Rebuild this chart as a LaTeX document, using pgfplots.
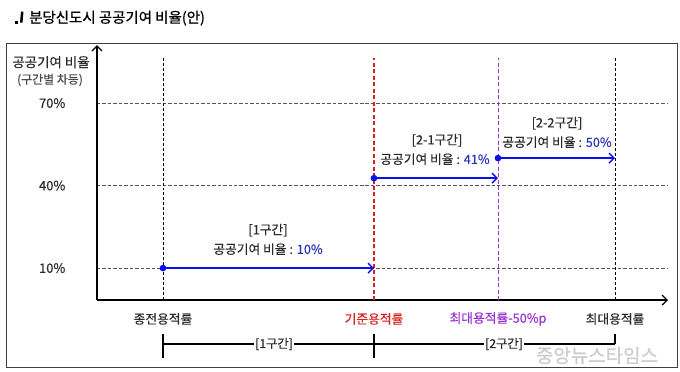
\documentclass[border=0pt]{standalone}
\usepackage{pgfplots}
\pgfplotsset{compat=1.18}
\usetikzlibrary{arrows.meta}
\usepackage{fontspec}
\setmainfont{Noto Sans CJK KR}[FakeBold=0.35]
\newfontfamily\titlefont{Noto Sans CJK KR}[FakeBold=0.8]
\definecolor{txt}{HTML}{2A2A2A}
\definecolor{arr}{HTML}{0A10EE}
\definecolor{bluetxt}{HTML}{2A35B5}
\definecolor{redc}{HTML}{DA2020}
\definecolor{purp}{HTML}{9A30D0}
\definecolor{gridc}{HTML}{555555}
\newcommand{\lf}{\fontsize{12.8}{14}\selectfont}
\begin{document}
\begin{tikzpicture}
\begin{axis}[
  scale only axis, width=571bp, height=255bp,
  xmin=97, xmax=668, ymin=-1.64, ymax=91.1,
  axis lines=left,
  axis line style={line width=1.2pt, black, -{Straight Barb[length=5bp,width=10bp]}},
  xtick=\empty,
  ytick={10,40,70}, yticklabels={10\%,40\%,70\%},
  ymajorgrids,
  major grid style={dash pattern=on 3.5pt off 2pt, gridc, line width=0.7pt},
  major tick style={draw=none},
  yticklabel style={font=\fontsize{13}{15}\selectfont, text=txt, xshift=-26bp},
  /pgf/number format/assume math mode=true,
  clip=false,
]
% vertical reference lines
\addplot[dash pattern=on 3pt off 2pt, black, line width=0.7pt] coordinates {(163,-1.64) (163,86.4)};
\addplot[dash pattern=on 4pt off 2.5pt, redc, line width=1.1pt] coordinates {(374,-1.64) (374,86.4)};
\addplot[dash pattern=on 4pt off 2.5pt, purp, line width=0.9pt] coordinates {(498,-1.64) (498,86.4)};
\addplot[dash pattern=on 3pt off 2pt, black, line width=0.7pt] coordinates {(615,-1.64) (615,86.4)};
% rate arrows
\addplot[arr, line width=1.4pt, -{Straight Barb[length=5bp,width=10bp]}, mark=*, mark size=2.6pt, mark indices={1}, mark options={solid, fill=arr, draw=arr}] coordinates {(163,10) (374,10)};
\addplot[arr, line width=1.4pt, -{Straight Barb[length=5bp,width=10bp]}, mark=*, mark size=2.6pt, mark indices={1}, mark options={solid, fill=arr, draw=arr}] coordinates {(374,42.7) (498,42.7)};
\addplot[arr, line width=1.4pt, -{Straight Barb[length=5bp,width=10bp]}, mark=*, mark size=2.6pt, mark indices={1}, mark options={solid, fill=arr, draw=arr}] coordinates {(498,50) (615,50)};
% annotations
\node[text=txt, font=\lf] at (axis cs:268,23.8) {[1구간]};
\node[text=txt, font=\lf] at (axis cs:268,16.9) {공공기여 비율 : \textcolor{bluetxt}{10\%}};
\node[text=txt, font=\lf] at (axis cs:437,56.5) {[2-1구간]};
\node[text=txt, font=\lf] at (axis cs:435,49.6) {공공기여 비율 : \textcolor{bluetxt}{41\%}};
\node[text=txt, font=\lf] at (axis cs:557,62.7) {[2-2구간]};
\node[text=txt, font=\lf] at (axis cs:557,55.8) {공공기여 비율 : \textcolor{bluetxt}{50\%}};
% y axis title
\node[text=txt, font=\fontsize{13.5}{15}\selectfont] at (axis cs:51,84.9) {공공기여 비율};
\node[text=txt!85, font=\fontsize{12}{13}\selectfont] at (axis cs:50,78.4) {(구간별 차등)};
% category labels
\node[text=txt, font=\lf] at (axis cs:163,-8.5) {종전용적률};
\node[text=redc, font=\lf] at (axis cs:374,-8.5) {기준용적률};
\node[text=purp, font=\lf] at (axis cs:498,-8.5) {최대용적률-50\%p};
\node[text=txt, font=\lf] at (axis cs:615,-8.5) {최대용적률};
% watermark
\node[text=black!20, font=\fontsize{19}{21}\selectfont\titlefont] at (axis cs:597,-21.8) {중앙뉴스타임스};
% bracket
\draw[line width=1.3pt, black] (axis cs:163,-17.6) -- (axis cs:615,-17.6);
\draw[line width=1.3pt, black] (axis cs:163,-14) -- (axis cs:163,-22.7);
\draw[line width=1.3pt, black] (axis cs:374,-14) -- (axis cs:374,-22.7);
\draw[line width=1.3pt, black] (axis cs:615,-14) -- (axis cs:615,-17.6);
\node[fill=white, text=txt, font=\fontsize{12.3}{13}\selectfont, inner sep=1.5pt] at (axis cs:274,-17.6) {[1구간]};
\node[fill=white, text=txt, font=\fontsize{12.3}{13}\selectfont, inner sep=1.5pt] at (axis cs:504,-17.6) {[2구간]};
% frame
\draw[line width=0.8pt, black!75] (axis cs:6,91.8) rectangle (axis cs:677,-26.2);
% title
\fill[black] (axis cs:15,100.0) rectangle (axis cs:18.5,98.6);
\fill[black] (axis cs:21,103.3) -- (axis cs:23.5,103.3) -- (axis cs:22.5,99.3) -- (axis cs:20,99.3) -- cycle;
\node[anchor=west, text=black, font=\fontsize{14.5}{16}\selectfont\titlefont, inner sep=0pt] at (axis cs:29,100.9) {분당신도시 공공기여 비율(안)};
\coordinate (bbA) at (axis cs:0,107.5);
\coordinate (bbB) at (axis cs:680,-27.5);
\end{axis}
\pgfresetboundingbox
\path (bbA) rectangle (bbB);
\end{tikzpicture}
\end{document}
